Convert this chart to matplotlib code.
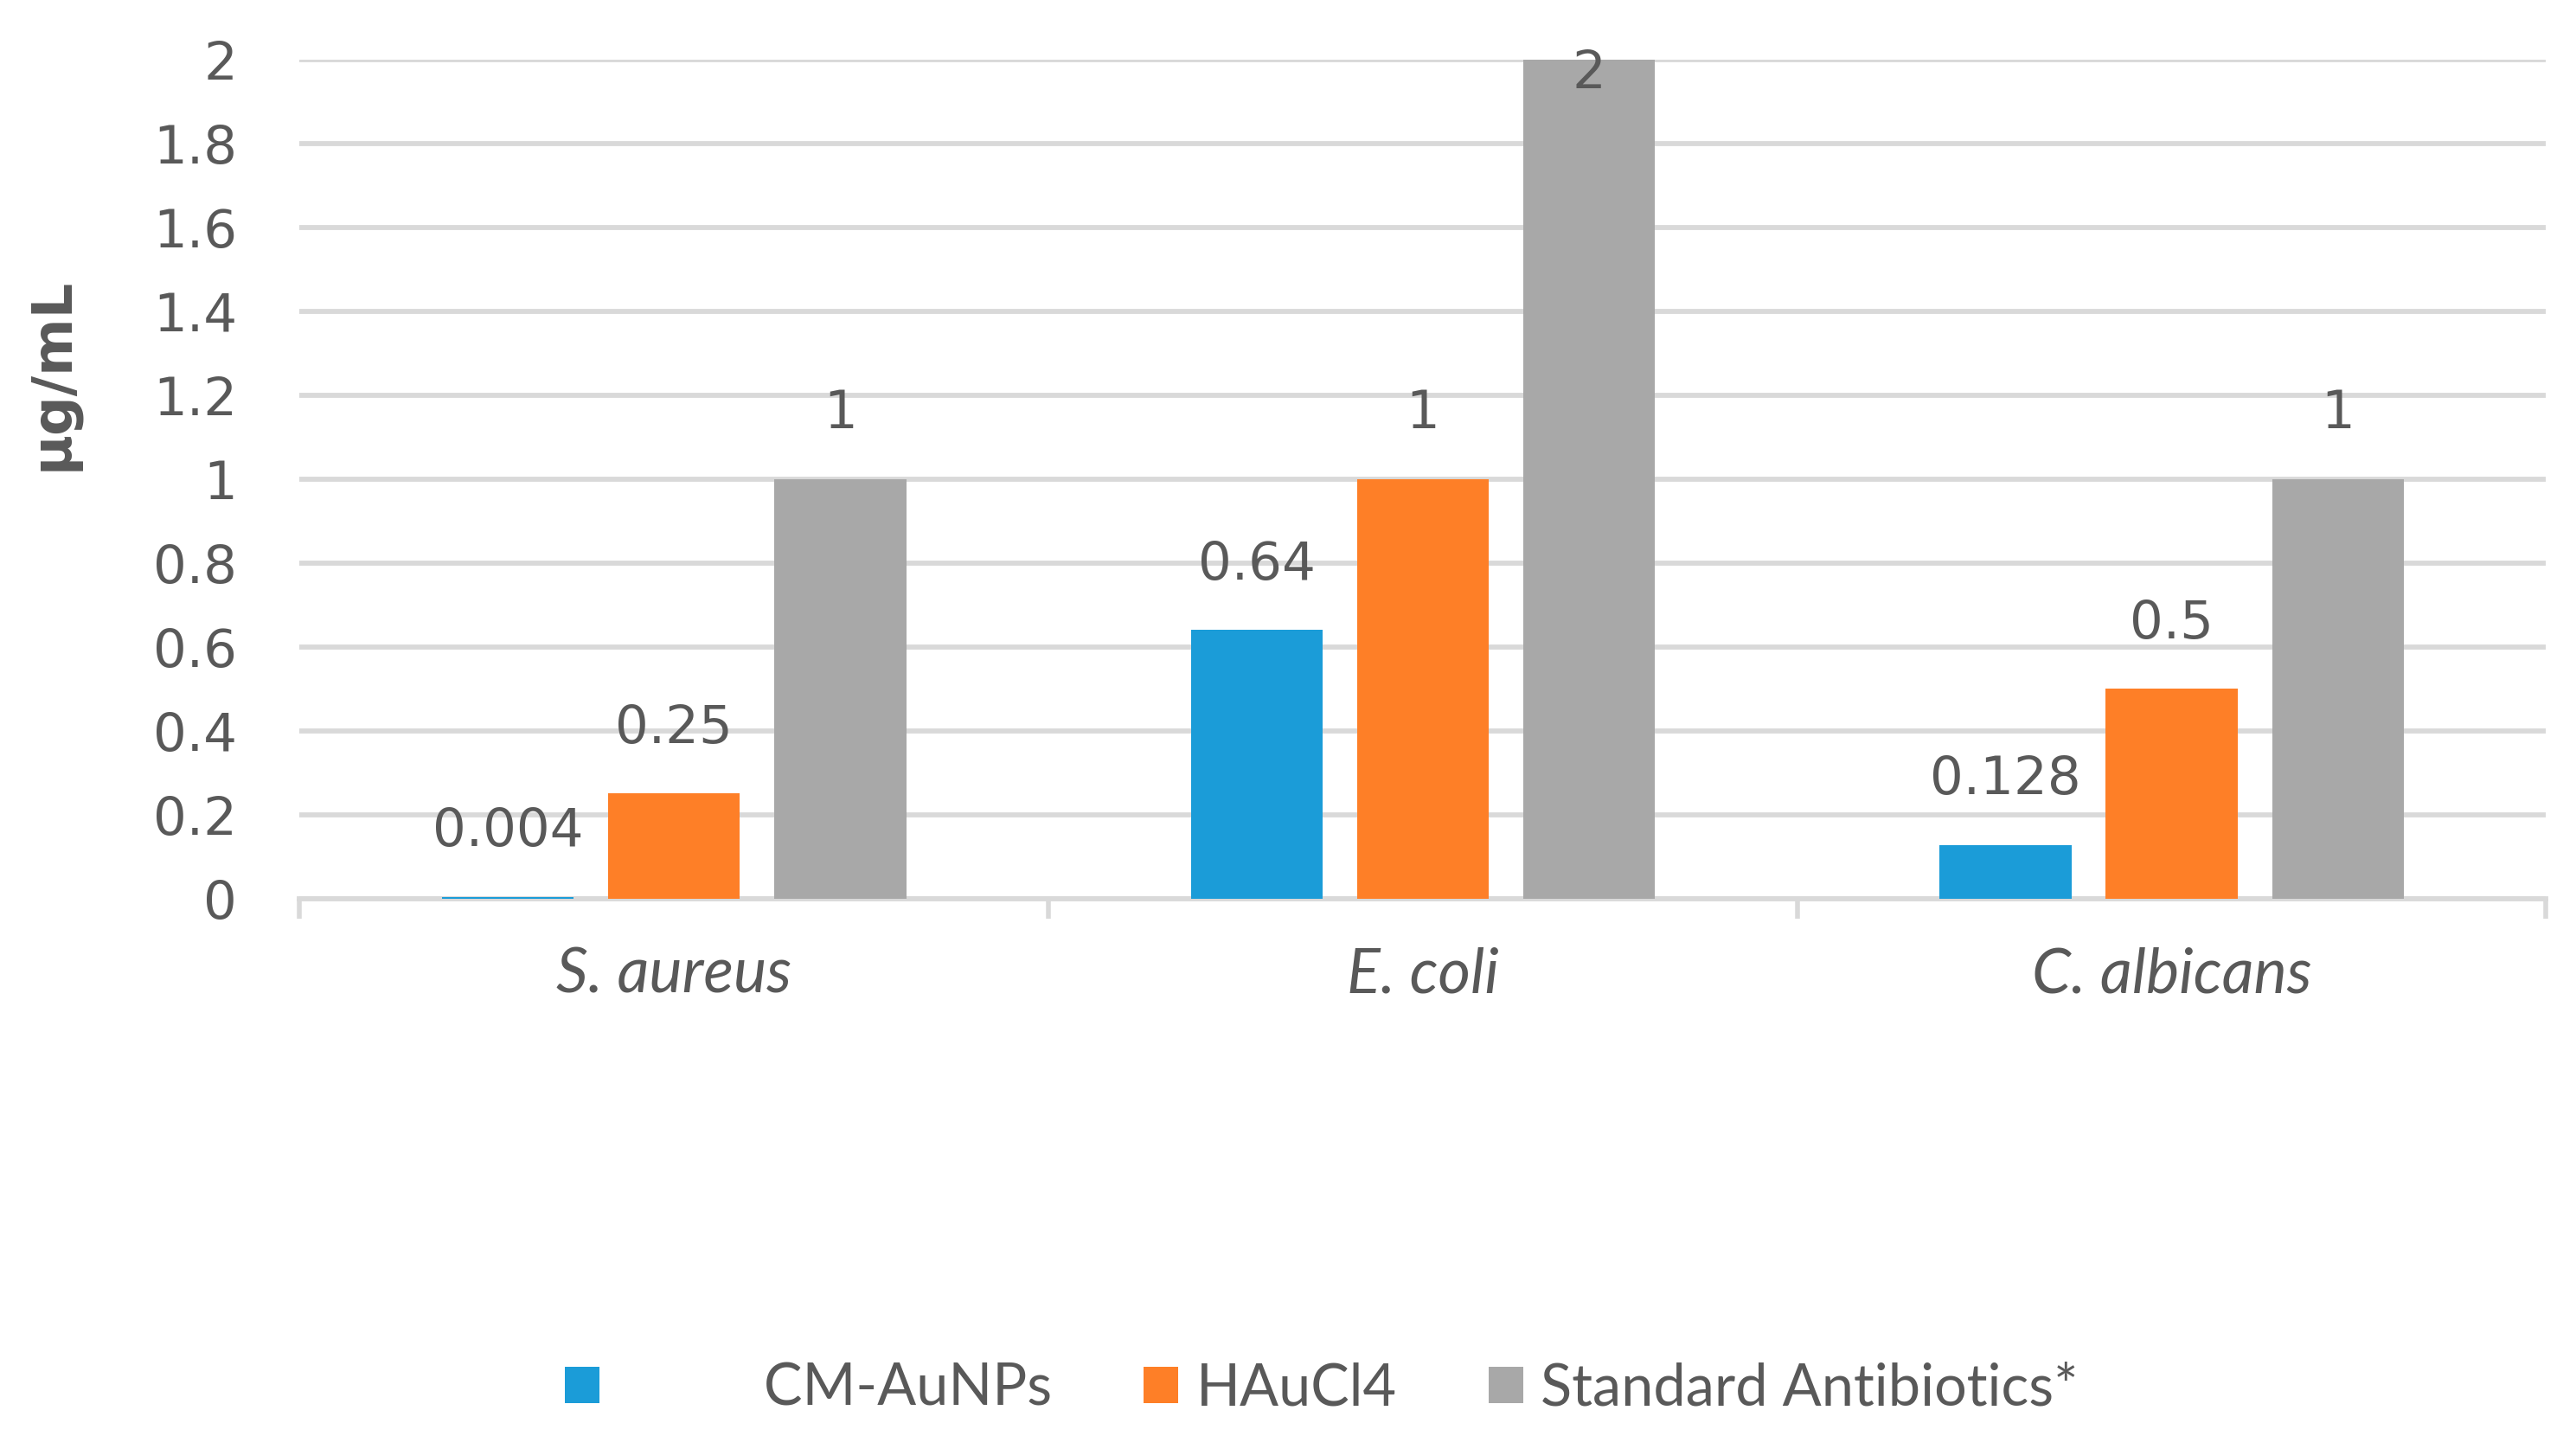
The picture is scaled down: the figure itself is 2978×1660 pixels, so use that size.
import matplotlib.pyplot as plt
import numpy as np

categories = ['S. aureus', 'E. coli', 'C. albicans']
series_names = ['CM-AuNPs', 'HAuCl4', 'Standard Antibiotics*']
cm_aunps = [0.004, 0.64, 0.128]
haucl4 = [0.25, 1, 0.5]
antibiotics = [1, 2, 1]
value_labels = [['0.004', '0.64', '0.128'], ['0.25', '1', '0.5'], ['1', '2', '1']]
yticks = [0, 0.2, 0.4, 0.6, 0.8, 1, 1.2, 1.4, 1.6, 1.8, 2]
ytick_labels = ['0', '0.2', '0.4', '0.6', '0.8', '1', '1.2', '1.4', '1.6', '1.8', '2']

colors = ['#1b9cd8', '#fe7f27', '#a8a8a8']
txt = '#595959'
grid_c = '#d9d9d9'

fig = plt.figure(figsize=(14.89, 8.30), dpi=200)
ax = fig.add_axes([0.1163, 0.3743, 0.8721, 0.5840])

x = np.arange(len(categories))
width = 0.176
step = 0.222
data = [cm_aunps, haucl4, antibiotics]

for i, vals in enumerate(data):
    pos = x + (i - 1) * step
    bars = ax.bar(pos, vals, width, color=colors[i], label=series_names[i], zorder=3)
    for j, b in enumerate(bars):
        v = vals[j]
        if v >= 2:
            off = -6
        else:
            off = 27
        ax.annotate(value_labels[i][j], (b.get_x() + b.get_width() / 2, v),
                    xytext=(0, off), textcoords='offset points',
                    ha='center', va='center', fontsize=22, color=txt,
                    family='DejaVu Sans', zorder=4)

ax.set_ylim(0, 2)
ax.set_xlim(-0.5, 2.5)
ax.set_yticks(yticks)
ax.set_yticklabels(ytick_labels)
ax.tick_params(axis='y', length=0, pad=26, labelsize=22, labelcolor=txt)
ax.grid(axis='y', color=grid_c, linewidth=2.1, zorder=0)

ax.set_xticks([-0.5, 0.5, 1.5, 2.5])
ax.set_xticklabels([])
ax.set_xticks(x, minor=True)
ax.set_xticklabels(categories, minor=True, fontsize=26, color=txt,
                   style='italic', family='Lato')
ax.tick_params(axis='x', which='major', length=8.3, width=2, color=grid_c)
ax.tick_params(axis='x', which='minor', length=0, pad=20)

for s in ['top', 'right', 'left']:
    ax.spines[s].set_visible(False)
ax.spines['bottom'].set_color(grid_c)
ax.spines['bottom'].set_linewidth(2.1)
ax.spines['bottom'].set_zorder(2)

ax.set_ylabel('µg/mL', fontsize=23, fontweight='bold', color=txt)
ax.yaxis.set_label_coords(-0.098, 0.625)

handles, labels = ax.get_legend_handles_labels()
labels[0] = '          ' + labels[0]
fig.legend(handles, labels, loc='center', bbox_to_anchor=(0.513, 0.033),
           ncol=3, frameon=False, labelcolor=txt,
           handlelength=0.6, handleheight=0.6, handletextpad=0.3,
           columnspacing=1.6, prop={'family': 'Lato', 'size': 24})

plt.savefig('out.png')
